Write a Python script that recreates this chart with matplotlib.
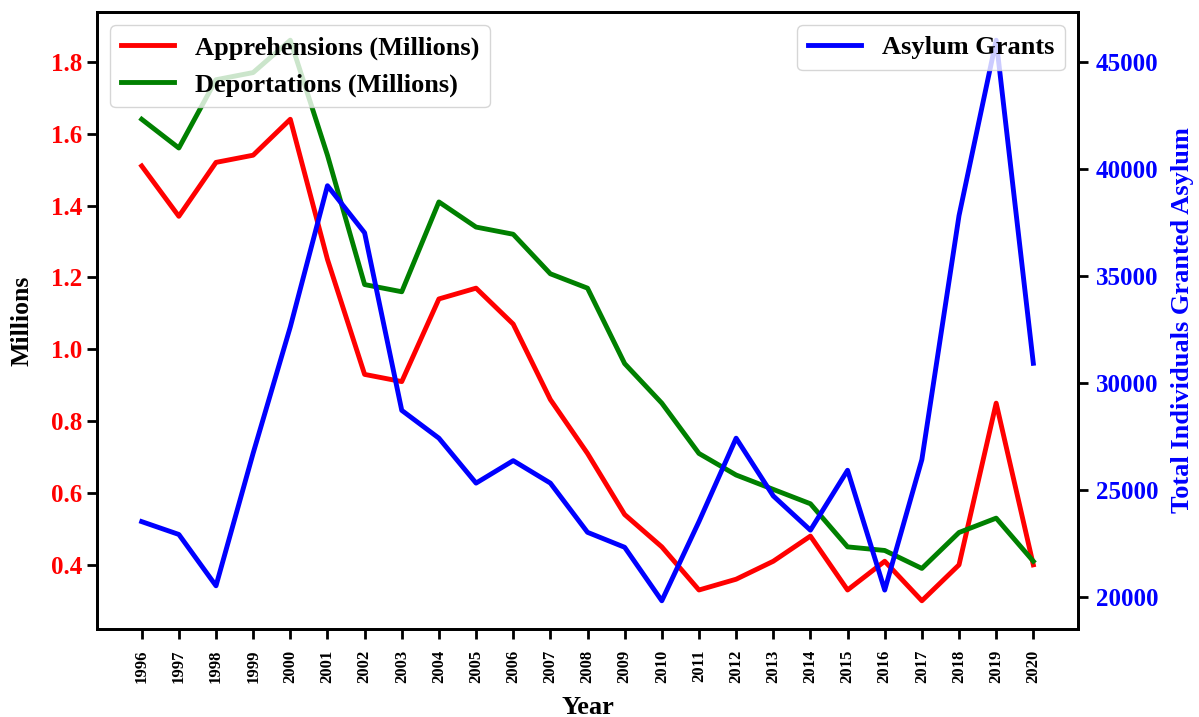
import matplotlib.pyplot as plt

plt.rcParams['font.family'] = ['Liberation Serif', 'DejaVu Serif']
plt.rcParams['font.weight'] = 'bold'

years = list(range(1996, 2021))
apprehensions = [1.51, 1.37, 1.52, 1.54, 1.64, 1.25, 0.93, 0.91, 1.14, 1.17,
                 1.07, 0.86, 0.71, 0.54, 0.45, 0.33, 0.36, 0.41, 0.48, 0.33,
                 0.41, 0.30, 0.40, 0.85, 0.40]
deportations = [1.64, 1.56, 1.75, 1.77, 1.86, 1.54, 1.18, 1.16, 1.41, 1.34,
                1.32, 1.21, 1.17, 0.96, 0.85, 0.71, 0.65, 0.61, 0.57, 0.45,
                0.44, 0.39, 0.49, 0.53, 0.41]
asylum = [23500, 22900, 20500, 26700, 32600, 39200, 37000, 28700, 27400, 25300,
          26350, 25300, 23000, 22300, 19800, 23500, 27400, 24700, 23100, 25900,
          20300, 26400, 37800, 46000, 30900]

fig, ax = plt.subplots(figsize=(11.99, 7.17), dpi=100)
fig.subplots_adjust(left=0.081, right=0.899, top=0.983, bottom=0.123)

ax.plot(years, apprehensions, color='red', lw=3.5, label='Apprehensions (Millions)')
ax.plot(years, deportations, color='green', lw=3.5, label='Deportations (Millions)')
ax.set_xlabel('Year', fontsize=19, fontweight='bold', labelpad=9)
ax.set_ylabel('Millions', fontsize=18.5, fontweight='bold', labelpad=13)
ax.set_xticks(years)
ax.set_xticklabels([str(y) for y in years], rotation=90, fontsize=12, fontweight='bold')
ax.tick_params(axis='y', labelcolor='red', labelsize=18, width=2, length=7)
ax.tick_params(axis='x', width=2, length=7, pad=8)

ax2 = ax.twinx()
ax2.plot(years, asylum, color='blue', lw=3.5, label='Asylum Grants')
ax2.set_ylabel('Total Individuals Granted Asylum', fontsize=19, fontweight='bold',
               color='blue', labelpad=9)
ax2.tick_params(axis='y', labelcolor='blue', labelsize=18, width=2, length=7, pad=6)

for a in (ax, ax2):
    for s in a.spines.values():
        s.set_linewidth(2)
    for lab in a.get_yticklabels():
        lab.set_fontweight('bold')

ax.legend(loc='upper left', prop={'size': 19, 'weight': 'bold'})
ax2.legend(loc='upper right', prop={'size': 19, 'weight': 'bold'})

plt.savefig('out.png')
